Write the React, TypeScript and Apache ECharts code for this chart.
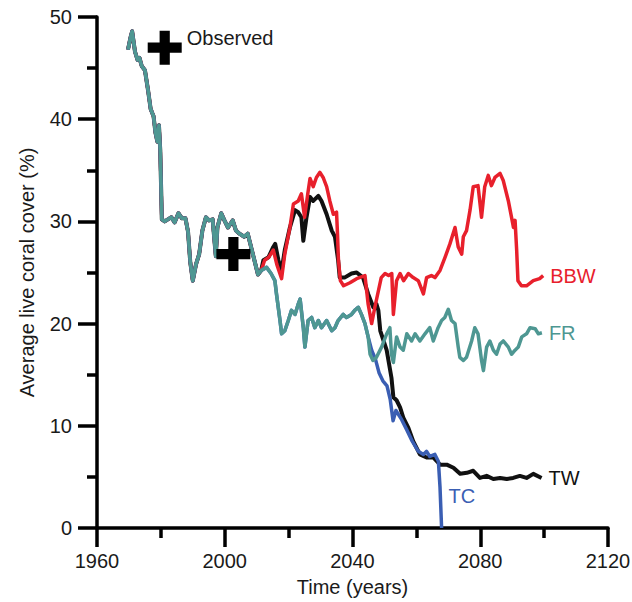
import React, { useEffect, useRef } from "react";
import * as echarts from "echarts";

type Pt = [number, number];

// Shared history (all four scenarios coincide)
const sharedHistory: Pt[] = [
  [1969.7, 46.8], [1970.5, 48.0], [1971, 48.6], [1971.9, 46.6], [1972.7, 45.8], [1973.3, 46.0],
  [1974, 45.2], [1975, 44.8], [1976, 42.8], [1976.8, 41.0], [1977.7, 40.3], [1978.3, 38.7],
  [1978.9, 37.8], [1979.4, 39.4], [1979.8, 37.0], [1980.3, 30.2], [1981.2, 30.0], [1982.2, 30.2],
  [1983.3, 30.4], [1984.3, 29.9], [1985.5, 30.8], [1986.6, 30.3], [1987.7, 30.3], [1988.5, 29.0],
  [1989.2, 26.0], [1990, 24.2], [1991, 25.8], [1992, 26.8], [1993, 29.1], [1994.1, 30.4],
  [1995.1, 30.1], [1996.2, 30.2], [1997.2, 26.6], [1997.7, 29.4], [1998.9, 30.8], [1999.9, 30.1],
  [2001, 29.4], [2002.5, 30.1], [2003.5, 29.1], [2004.6, 28.8], [2006.1, 28.5], [2007.2, 28.8],
  [2008.8, 26.8], [2010.4, 24.8], [2011.4, 25.2],
];

const bbwFuture: Pt[] = [
  [2012.5, 26.2], [2013.8, 26.5], [2015.2, 27.2], [2016.3, 25.8], [2017.8, 24.4], [2018.8, 26.8],
  [2020.4, 29.4], [2021.5, 31.7], [2023, 32.0], [2024, 32.7], [2025, 30.4], [2026, 32.7],
  [2026.7, 34.2], [2027.7, 33.4], [2028.7, 34.3], [2029.8, 34.8], [2030.8, 34.3], [2031.9, 33.4],
  [2032.9, 32.0], [2034, 30.7], [2035, 30.9], [2035.3, 28.8], [2035.6, 26.2], [2036.2, 24.2],
  [2037.2, 23.7], [2039.2, 24.0], [2041.3, 24.4], [2043.9, 24.7], [2044.9, 21.9], [2046, 20.0],
  [2047, 21.6], [2049, 24.5], [2050.2, 24.9], [2051.3, 24.7], [2052.3, 24.9], [2052.8, 20.9],
  [2053.8, 24.2], [2054.9, 24.9], [2056, 24.2], [2057.5, 24.9], [2059, 24.5], [2060.6, 24.2],
  [2062.2, 22.9], [2063.2, 24.5], [2064.7, 24.7], [2065.8, 24.5], [2067.4, 25.2], [2069, 26.5],
  [2070.5, 27.8], [2072.1, 29.4], [2073.1, 27.5], [2074.2, 26.8], [2074.7, 28.5], [2075.7, 29.1],
  [2076.8, 31.1], [2077.8, 33.4], [2079.3, 33.5], [2080.4, 30.4], [2081.4, 33.4], [2082.5, 34.5],
  [2083.5, 33.5], [2084.6, 34.3], [2086.2, 34.7], [2087.2, 34.0], [2088.8, 32.0], [2089.8, 30.4],
  [2090.4, 29.4], [2090.9, 30.1], [2091.4, 27.2], [2091.8, 24.2], [2092.9, 23.7], [2094.5, 23.7],
  [2096.6, 24.2], [2098.6, 24.4], [2099.7, 24.7],
];

const twFuture: Pt[] = [
  [2012.1, 26.2], [2013.7, 26.5], [2015.2, 27.5], [2015.8, 27.8], [2016.8, 26.2], [2017.8, 25.2],
  [2018.8, 27.2], [2020.4, 29.4], [2022, 31.1], [2023, 30.9], [2024, 30.4], [2024.6, 28.1],
  [2025.6, 30.4], [2026.7, 32.4], [2027.7, 32.0], [2029.3, 32.5], [2030.3, 32.0], [2031.9, 30.7],
  [2033.5, 29.1], [2034.5, 28.5], [2035.5, 26.2], [2036, 24.5], [2037.5, 24.5], [2039.7, 24.9],
  [2041.3, 25.0], [2043.3, 24.5], [2044.9, 22.9], [2046.5, 21.6], [2047.5, 21.9], [2048.1, 21.3],
  [2048.7, 19.3], [2050.7, 17.4], [2052.2, 14.7], [2052.8, 12.8], [2053.8, 12.5], [2054.9, 11.8],
  [2055.9, 10.8], [2057.5, 9.8], [2059, 8.5], [2061.1, 7.2], [2063.2, 6.9], [2065.3, 6.9],
  [2067.4, 6.2], [2069.5, 6.2], [2071.6, 5.9], [2073.7, 5.3], [2075.8, 5.4], [2077.8, 5.6],
  [2079.9, 4.9], [2082, 5.1], [2084.1, 4.8], [2086.2, 4.9], [2088.3, 4.8], [2090.3, 4.9],
  [2092.4, 5.1], [2094.5, 4.9], [2096.6, 5.3], [2099.2, 4.9],
];

// FR and TC coincide until mid-2040s
const frTcShared: Pt[] = [
  [2013.1, 25.5], [2014.5, 24.9], [2015.7, 24.2], [2016.2, 22.9], [2017.3, 20.3], [2017.8, 19.0],
  [2018.8, 19.3], [2019.9, 20.3], [2020.9, 21.3], [2022, 20.9], [2023, 21.9], [2023.6, 22.4],
  [2024.6, 19.6], [2025.1, 17.7], [2026.1, 20.3], [2027.2, 20.6], [2028.2, 19.6], [2029.3, 20.3],
  [2030.3, 19.6], [2031.9, 20.3], [2033.5, 19.3], [2034.5, 19.6], [2035.5, 20.3], [2037.1, 20.9],
  [2038.1, 20.6], [2039.7, 20.9], [2040.7, 21.3], [2041.8, 21.6], [2042.8, 20.9], [2043.9, 20.0],
  [2044.9, 18.7],
];

const frFuture: Pt[] = [
  [2045.5, 17.0], [2046.4, 16.4], [2047.5, 16.7], [2049.1, 17.7], [2050.7, 19.0], [2051.7, 19.6],
  [2052.2, 17.0], [2052.8, 16.2], [2053.8, 18.7], [2054.9, 17.7], [2055.9, 17.4], [2057, 19.0],
  [2058.5, 18.3], [2059.6, 19.0], [2061.1, 18.3], [2062.7, 19.0], [2064.2, 19.6], [2065.3, 18.3],
  [2066.8, 19.6], [2067.9, 20.3], [2068.9, 20.6], [2070, 21.4], [2071, 20.3], [2072.1, 20.0],
  [2073.1, 17.7], [2073.6, 16.7], [2074.7, 16.4], [2075.7, 16.7], [2077.3, 18.3], [2078.3, 19.6],
  [2079.3, 19.0], [2080.4, 16.4], [2081, 15.4], [2082, 17.7], [2083, 18.3], [2084.1, 17.4],
  [2085.1, 17.0], [2086.2, 18.0], [2087.2, 18.3], [2088.8, 17.7], [2089.8, 17.0], [2090.9, 17.4],
  [2091.9, 17.7], [2093, 18.7], [2094.5, 19.0], [2095.6, 19.6], [2097.2, 19.5], [2098.2, 19.0],
  [2099.3, 19.1],
];

const tcFuture: Pt[] = [
  [2046, 17.4], [2047.2, 16.5], [2048.3, 15.2], [2049.5, 14.4], [2050.8, 13.9], [2051.8, 12.6],
  [2052.7, 10.5], [2053.6, 11.5], [2055.4, 10.6], [2057, 9.6], [2058.7, 8.5], [2060.6, 7.5],
  [2062.2, 7.2], [2063.2, 7.5], [2064.2, 7.0], [2065.8, 7.2], [2066.9, 6.5], [2067.4, 4.0],
  [2067.9, 0],
];

const observed: Pt[] = [
  [1981.2, 47.0],
  [2002.7, 26.8],
];

const xTicks = { min: 1960, max: 2120, interval: 40 };
const yTicks = { min: 0, max: 50, interval: 10 };

const COLORS = { BBW: "#e8202c", FR: "#4e9792", TW: "#111111", TC: "#3a5eb3" };
const FONT = "'Liberation Sans', Arial, Helvetica, sans-serif";
const TEXT = "#1a1a1a";

const PLUS =
  "path://M35,0 L65,0 L65,35 L100,35 L100,65 L65,65 L65,100 L35,100 L35,65 L0,65 L0,35 L35,35 Z";

export default function App() {
  const ref = useRef<HTMLDivElement>(null);
  useEffect(() => {
    if (!ref.current) return;
    const chart = echarts.init(ref.current, null, { renderer: "svg" });
    const lineSeries = (name: keyof typeof COLORS, data: Pt[], z: number, width: number, offset: number[] = [0, 0]) => ({
      type: "line",
      name,
      data,
      z,
      showSymbol: false,
      symbol: "none",
      lineStyle: { color: COLORS[name], width, join: "round" },
      itemStyle: { color: COLORS[name] },
      endLabel: {
        show: true,
        formatter: name,
        color: COLORS[name],
        fontSize: 20,
        fontFamily: FONT,
        distance: 7,
        offset,
      },
    });
    const axisCommon = {
      axisLine: { onZero: false, lineStyle: { color: "#000", width: 3.5 } },
      axisTick: { length: 19, lineStyle: { color: "#000", width: 3.5 } },
      minorTick: { show: true, splitNumber: 2, length: 10, lineStyle: { color: "#000", width: 3.5 } },
      splitLine: { show: false },
      minorSplitLine: { show: false },
      nameTextStyle: { fontSize: 20, color: TEXT, fontFamily: FONT },
    };
    chart.setOption({
      animation: false,
      textStyle: { fontFamily: FONT },
      grid: { left: 97, right: 24, top: 17, bottom: 74, outerBoundsMode: "none", containLabel: false },
      xAxis: {
        type: "value",
        min: xTicks.min,
        max: xTicks.max,
        interval: xTicks.interval,
        name: "Time (years)",
        nameLocation: "middle",
        nameGap: 49,
        ...axisCommon,
        axisLabel: {
          fontSize: 20,
          color: TEXT,
          margin: 23,
          fontFamily: FONT,
          formatter: (v: number) => String(v),
        },
      },
      yAxis: {
        type: "value",
        min: yTicks.min,
        max: yTicks.max,
        interval: yTicks.interval,
        name: "Average live coral cover (%)",
        nameLocation: "middle",
        nameGap: 60,
        ...axisCommon,
        axisLabel: {
          fontSize: 20,
          color: TEXT,
          margin: 25,
          fontFamily: FONT,
          formatter: (v: number) => String(v),
        },
      },
      series: [
        lineSeries("TW", sharedHistory.concat(twFuture), 1, 4),
        lineSeries("BBW", sharedHistory.concat(bbwFuture), 2, 3.5),
        lineSeries("TC", sharedHistory.concat(frTcShared, tcFuture), 3, 3.5, [0, -32]),
        lineSeries("FR", sharedHistory.concat(frTcShared, frFuture), 4, 3.5),
        {
          type: "scatter",
          name: "Observed",
          z: 5,
          symbol: PLUS,
          symbolSize: 34,
          itemStyle: { color: "#000", opacity: 1 },
          data: observed.map((p, i) =>
            i === 0
              ? {
                  value: p,
                  label: {
                    show: true,
                    formatter: "Observed",
                    position: "right",
                    distance: 5,
                    offset: [0, -10],
                    fontSize: 20,
                    color: TEXT,
                    fontFamily: FONT,
                  },
                }
              : { value: p }
          ),
        },
      ],
    });
    return () => chart.dispose();
  }, []);
  return (
    <div
      ref={ref}
      style={{ position: "fixed", left: 0, top: 0, width: 632, height: 602, background: "#fff" }}
    />
  );
}
